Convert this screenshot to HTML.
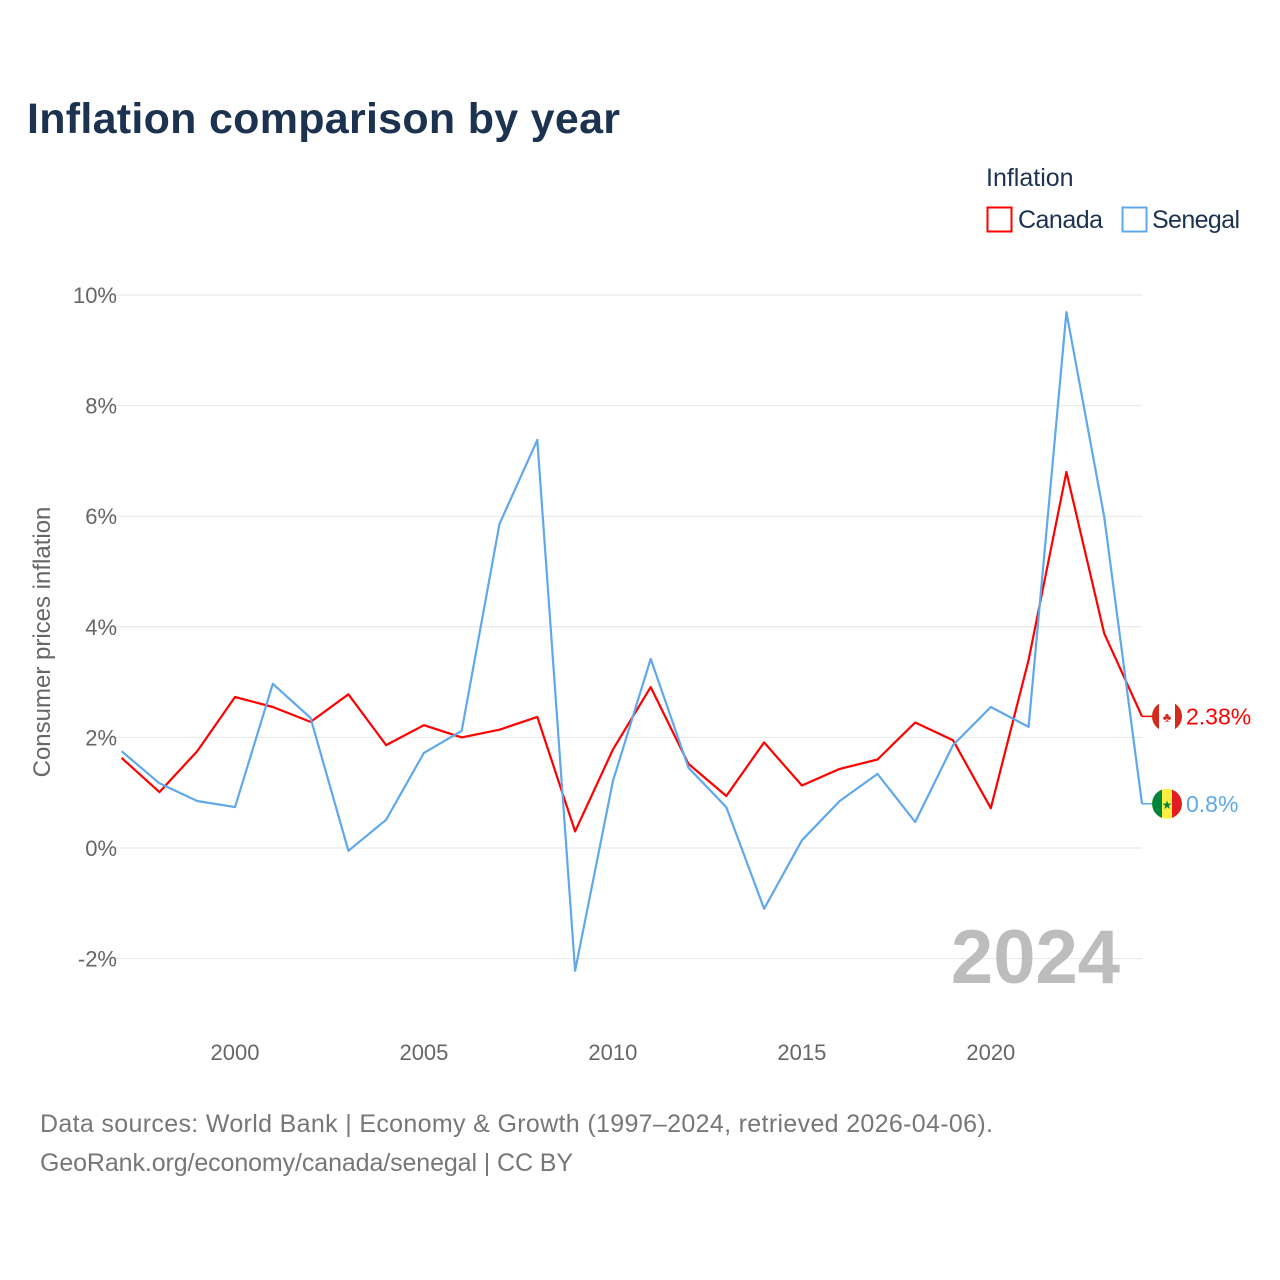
<!DOCTYPE html>
<html><head><meta charset="utf-8">
<style>
body{margin:0;background:#fff;font-family:"Liberation Sans",sans-serif;}
svg{display:block}
</style></head>
<body>
<svg id="chart" width="1280" height="1280" viewBox="0 0 1280 1280" xmlns="http://www.w3.org/2000/svg">
<text x="27" y="133" font-size="43" font-weight="bold" fill="#1b3250" textLength="593">Inflation comparison by year</text>
<text x="986" y="186" font-size="25" fill="#1b3250">Inflation</text>
<g><rect x="987.5" y="207.5" width="24" height="24" fill="none" stroke="#ff0000" stroke-width="2"/><text x="1018" y="228" font-size="25" fill="#1b3250" textLength="85">Canada</text></g>
<g><rect x="1122.5" y="207.5" width="24" height="24" fill="none" stroke="#5fa8ec" stroke-width="2"/><text x="1152" y="228" font-size="25" fill="#1b3250" textLength="88">Senegal</text></g>
<text transform="translate(50,642) rotate(-90)" text-anchor="middle" font-size="24" fill="#666">Consumer prices inflation</text>
<g id="grid"></g><g id="yticks"></g><g id="xticks"></g>
<text x="1120" y="983" text-anchor="end" font-size="76" font-weight="bold" fill="#bdbdbd">2024</text>
<g id="series"></g>
<text x="40" y="1132" font-size="25" fill="#777" textLength="953">Data sources: World Bank | Economy &amp; Growth (1997–2024, retrieved 2026-04-06).</text>
<text x="40" y="1171" font-size="25" fill="#777" textLength="533">GeoRank.org/economy/canada/senegal | CC BY</text>
</svg>
<script>
const years=[1997,1998,1999,2000,2001,2002,2003,2004,2005,2006,2007,2008,2009,2010,2011,2012,2013,2014,2015,2016,2017,2018,2019,2020,2021,2022,2023,2024];
const canada=[1.63,1.01,1.75,2.73,2.55,2.28,2.78,1.86,2.22,2.0,2.14,2.37,0.3,1.78,2.91,1.52,0.94,1.91,1.13,1.43,1.6,2.27,1.95,0.72,3.4,6.8,3.88,2.38];
const senegal=[1.75,1.17,0.85,0.74,2.97,2.35,-0.05,0.51,1.72,2.12,5.86,7.38,-2.22,1.21,3.42,1.45,0.74,-1.1,0.14,0.85,1.34,0.47,1.86,2.55,2.19,9.69,5.99,0.8];
const yTicks=[-2,0,2,4,6,8,10];
const xTicks=[2000,2005,2010,2015,2020];
const NS="http://www.w3.org/2000/svg";
const x=v=>121.6+(v-1997)*(1142-121.6)/27;
const y=v=>848-v*55.3;
function mk(tag,attrs,parent,text){const e=document.createElementNS(NS,tag);for(const k in attrs)e.setAttribute(k,attrs[k]);if(text!==undefined)e.textContent=text;parent.appendChild(e);return e;}
const grid=document.getElementById('grid'),yt=document.getElementById('yticks'),xt=document.getElementById('xticks'),ser=document.getElementById('series');
yTicks.forEach(t=>{
 const l=mk('line',{x1:100,x2:1142,y1:y(t),y2:y(t),stroke:'#e6e6e6','stroke-width':1},grid);
 
 
 const tx=mk('text',{x:117,y:y(t)+8,'text-anchor':'end','font-size':22,fill:'#666'},yt,t+'%');
 
 
});
xTicks.forEach(t=>{
 const tx=mk('text',{x:x(t),y:1060,'text-anchor':'middle','font-size':22,fill:'#666'},xt,String(t));
 
 
});
function line(vals,color,name){
 const pts=vals.map((v,i)=>x(years[i]).toFixed(1)+','+y(v).toFixed(1)).join(' ');
 const p=mk('polyline',{points:pts,fill:'none',stroke:color,'stroke-width':2.2,'stroke-linejoin':'round'},ser);
 
 
 const lv=vals[vals.length-1],ly=y(lv);
 mk('line',{x1:x(2024),x2:1152,y1:ly,y2:ly,stroke:color,'stroke-width':1.5},ser);
 const lbl=mk('text',{x:1186,y:ly+8,'font-size':23,fill:color},ser,lv+'%');
 
 
 return ly;
}
const cy=line(canada,'#ff0000','canada');
const sy=line(senegal,'#5fa8ec','senegal');
let g=mk('g',{},ser);


mk('circle',{cx:1167,cy:cy,r:15,fill:'#fff'},g);
mk('path',{d:`M1152,${cy} a15,15 0 0,1 7,-12.7 v25.4 a15,15 0 0,1 -7,-12.7z`,fill:'#d52b1e'},g);
mk('path',{d:`M1182,${cy} a15,15 0 0,0 -7,-12.7 v25.4 a15,15 0 0,0 7,-12.7z`,fill:'#d52b1e'},g);
mk('text',{x:1167,y:cy+5,'text-anchor':'middle','font-size':13,fill:'#d52b1e'},g,'♣');
g=mk('g',{},ser);


mk('circle',{cx:1167,cy:sy,r:15,fill:'#fdef42'},g);
mk('path',{d:`M1162,${sy-14.1} a15,15 0 0,0 0,28.2z`,fill:'#00853f'},g);
mk('path',{d:`M1172,${sy-14.1} a15,15 0 0,1 0,28.2z`,fill:'#e31b23'},g);
mk('text',{x:1167,y:sy+5,'text-anchor':'middle','font-size':12,fill:'#00853f'},g,'★');
</script>
</body></html>
